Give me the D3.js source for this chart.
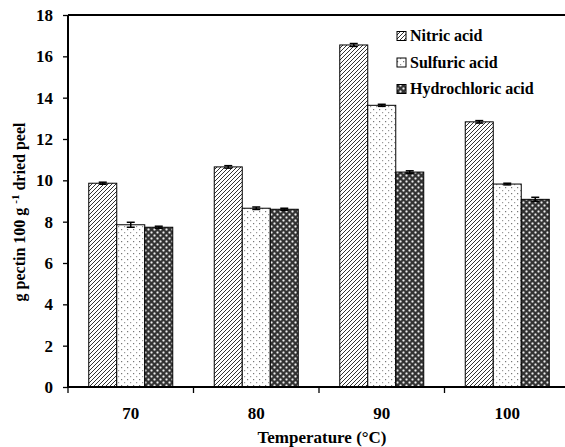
<!DOCTYPE html>
<html>
<head>
<meta charset="utf-8">
<script src="https://cdn.jsdelivr.net/npm/d3@7"></script>
<style>
  body { margin: 0; background: #fff; }
</style>
</head>
<body>
<svg id="chart" width="565" height="447" font-family="'Liberation Serif', 'DejaVu Serif', serif"></svg>
<script>
// temperatures (°C)
var temps = ["70", "80", "90", "100"];
var acids = ["Nitric acid", "Sulfuric acid", "Hydrochloric acid"];
// pectin yield, g pectin 100 g-1 dried peel
var nitric = [9.86, 10.65, 16.55, 12.83];
var sulfuric = [7.85, 8.65, 13.63, 9.82];
var hydrochloric = [7.73, 8.6, 10.4, 9.08];
// standard errors
var nitricErr = [0.05, 0.06, 0.07, 0.06];
var sulfuricErr = [0.12, 0.06, 0.05, 0.04];
var hydrochloricErr = [0.05, 0.05, 0.06, 0.1];
var yTicks = [0, 2, 4, 6, 8, 10, 12, 14, 16, 18];

var values = [nitric, sulfuric, hydrochloric];
var errs = [nitricErr, sulfuricErr, hydrochloricErr];

var serif = "'Liberation Serif', 'DejaVu Serif', serif";
var plotLeft = 68, plotTop = 15, plotRight = 570, plotBottom = 387;

var svg = d3.select("#chart");
var defs = svg.append("defs");

// diagonal hatch for nitric
var p1 = defs.append("pattern").attr("id", "pat0")
    .attr("patternUnits", "userSpaceOnUse").attr("width", 4).attr("height", 4);
p1.append("rect").attr("width", 4).attr("height", 4).attr("fill", "#fff");
p1.append("path").attr("d", "M-1,1 L1,-1 M0,4 L4,0 M3,5 L5,3")
    .attr("stroke", "#333").attr("stroke-width", 1);

// dots for sulfuric
var p2 = defs.append("pattern").attr("id", "pat1")
    .attr("patternUnits", "userSpaceOnUse").attr("width", 6).attr("height", 6);
p2.append("rect").attr("width", 6).attr("height", 6).attr("fill", "#fff");
p2.append("rect").attr("x", 1).attr("y", 1).attr("width", 1.2).attr("height", 1.2).attr("fill", "#777");
p2.append("rect").attr("x", 4).attr("y", 4).attr("width", 1.2).attr("height", 1.2).attr("fill", "#999");

// dark checker with white crosses for hydrochloric
var p3 = defs.append("pattern").attr("id", "pat2")
    .attr("patternUnits", "userSpaceOnUse").attr("width", 6).attr("height", 6);
p3.append("rect").attr("width", 6).attr("height", 6).attr("fill", "#555");
p3.append("rect").attr("x", 0).attr("y", 0).attr("width", 3).attr("height", 3).attr("fill", "#333");
p3.append("rect").attr("x", 3).attr("y", 3).attr("width", 3).attr("height", 3).attr("fill", "#333");
p3.append("path").attr("d", "M4.5,0.5 v2 M3.5,1.5 h2 M1.5,3.5 v2 M0.5,4.5 h2")
    .attr("stroke", "#eee").attr("stroke-width", 0.9);

var x0 = d3.scaleBand().domain(temps).range([plotLeft, plotRight]).paddingInner(0).paddingOuter(0);
var x1 = d3.scaleBand().domain(d3.range(3)).range([0, 84]);
var y = d3.scaleLinear().domain([0, 18]).range([plotBottom, plotTop]);

// bars
temps.forEach(function (t, i) {
    var gx = x0(t) + (x0.bandwidth() - 84) / 2;
    for (var k = 0; k < 3; k++) {
        var v = values[k][i];
        svg.append("rect")
            .attr("x", gx + x1(k))
            .attr("y", y(v))
            .attr("width", x1.bandwidth())
            .attr("height", plotBottom - y(v))
            .attr("fill", "url(#pat" + k + ")")
            .attr("stroke", "#000")
            .attr("stroke-width", 1);
        var cx = gx + x1(k) + x1.bandwidth() / 2;
        var e = errs[k][i];
        svg.append("line")
            .attr("x1", cx).attr("x2", cx)
            .attr("y1", y(v + e)).attr("y2", y(v - e))
            .attr("stroke", "#000").attr("stroke-width", 1.5);
        [v + e, v - e].forEach(function (yy) {
            svg.append("line")
                .attr("x1", cx - 4).attr("x2", cx + 4)
                .attr("y1", y(yy)).attr("y2", y(yy))
                .attr("stroke", "#000").attr("stroke-width", 1.5);
        });
    }
});

// frame top line
svg.append("line").attr("x1", plotLeft).attr("x2", plotRight)
    .attr("y1", plotTop).attr("y2", plotTop)
    .attr("stroke", "#000").attr("stroke-width", 2);

// y axis
var yAxis = svg.append("g")
    .attr("transform", "translate(" + plotLeft + ",0)")
    .call(d3.axisLeft(y).tickValues(yTicks).tickSize(5).tickPadding(10).tickFormat(d3.format("d")));
yAxis.attr("font-family", serif);
yAxis.select(".domain").attr("stroke-width", 2).attr("d", "M0," + plotTop + "V" + plotBottom);
yAxis.selectAll(".tick line").attr("stroke-width", 1.3);
yAxis.selectAll("text").attr("font-size", 17).attr("font-weight", "bold")
    .attr("font-family", serif).attr("fill", "#000");

// x axis with ticks at band edges
var xg = svg.append("g").attr("transform", "translate(0," + plotBottom + ")");
xg.append("line").attr("x1", plotLeft).attr("x2", plotRight)
    .attr("stroke", "#000").attr("stroke-width", 2);
temps.forEach(function (t) {
    xg.append("line")
        .attr("x1", x0(t)).attr("x2", x0(t))
        .attr("y1", 0).attr("y2", 6)
        .attr("stroke", "#000").attr("stroke-width", 1.3);
    xg.append("text")
        .attr("x", x0(t) + x0.bandwidth() / 2)
        .attr("y", 32)
        .attr("text-anchor", "middle")
        .attr("font-family", serif)
        .attr("font-size", 17).attr("font-weight", "bold")
        .text(t);
});

// axis titles
svg.append("text")
    .attr("x", 322).attr("y", 443)
    .attr("text-anchor", "middle")
    .attr("font-family", serif)
    .attr("font-size", 17).attr("font-weight", "bold")
    .text("Temperature (°C)");

var yl = svg.append("text")
    .attr("transform", "translate(25,212) rotate(-90)")
    .attr("text-anchor", "middle")
    .attr("font-family", serif)
    .attr("font-size", 16).attr("font-weight", "bold");
yl.append("tspan").text("g pectin 100 g ");
yl.append("tspan").attr("dy", -6).attr("font-size", 11).text("-1");
yl.append("tspan").attr("dy", 6).text(" dried peel");

// legend
acids.forEach(function (a, k) {
    var ly = 36 + k * 26.5;
    svg.append("rect")
        .attr("x", 397).attr("y", ly - 4.5)
        .attr("width", 9).attr("height", 9)
        .attr("fill", "url(#pat" + k + ")")
        .attr("stroke", "#000").attr("stroke-width", 1);
    svg.append("text")
        .attr("x", 410).attr("y", ly + 5)
        .attr("font-family", serif)
        .attr("font-size", 16).attr("font-weight", "bold")
        .text(a);
});
</script>
</body>
</html>
